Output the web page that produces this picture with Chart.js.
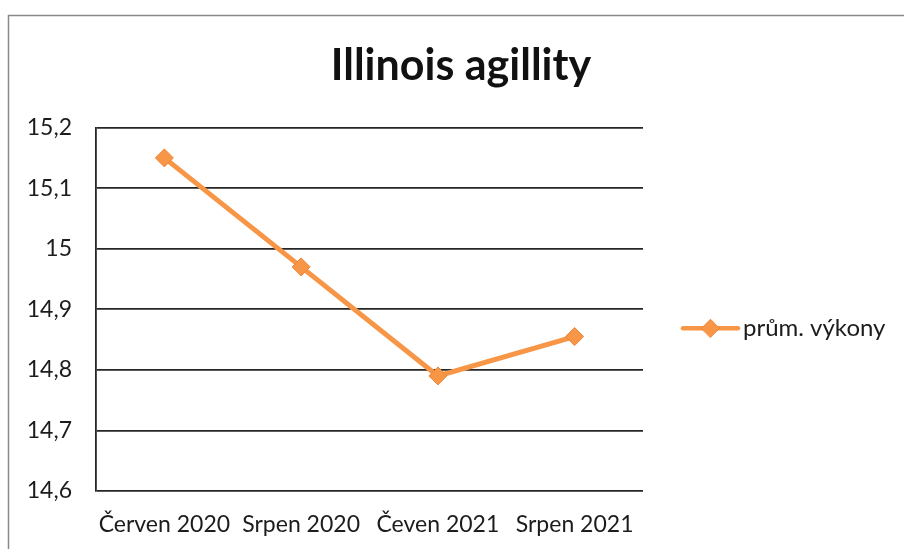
<!DOCTYPE html>
<html>
<head>
<meta charset="utf-8">
<script src="https://cdn.jsdelivr.net/npm/chart.js@4/dist/chart.umd.min.js"></script>
<style>
  html, body { margin: 0; padding: 0; background: #ffffff; }
  #wrap { width: 904px; height: 549px; }
</style>
</head>
<body>
<div id="wrap"><canvas id="c" width="904" height="549"></canvas></div>
<script>
// Measurement dates and the average result for each
const categories = ['Červen 2020', 'Srpen 2020', 'Čeven 2021', 'Srpen 2021'];
const averageTimes = [15.15, 14.97, 14.79, 14.855];
const seriesLabel = 'prům. výkony';
const chartTitle = 'Illinois agillity';

// Value axis range and step
const yMin = 14.6;
const yMax = 15.2;
const yStep = 0.1;

const ORANGE = '#F79646';
const ORANGE_EDGE = '#EE8439';
const GRID = '#262626';
const TEXT = '#1c1c1c';
const FONT = 'Lato, "Open Sans", sans-serif';

// Czech number style: decimal comma, no trailing ",0"
function czNumber(v) {
  return String(Number(v.toFixed(1))).replace('.', ',');
}

// White page with the thin grey frame along the top and left edge
const framePlugin = {
  id: 'frame',
  beforeDraw(chart) {
    const ctx = chart.ctx;
    ctx.save();
    ctx.fillStyle = '#ffffff';
    ctx.fillRect(0, 0, chart.width, chart.height);
    ctx.strokeStyle = '#8a8a8a';
    ctx.lineWidth = 1.5;
    ctx.beginPath();
    ctx.moveTo(8.5, chart.height);
    ctx.lineTo(8.5, 15.5);
    ctx.lineTo(chart.width, 15.5);
    ctx.stroke();
    ctx.restore();
  }
};

// Legend entry drawn to the right of the plot: line sample with a diamond marker
const sideLegendPlugin = {
  id: 'sideLegend',
  afterDraw(chart) {
    const ds = chart.data.datasets[0];
    const area = chart.chartArea;
    const ctx = chart.ctx;
    const cy = (area.top + area.bottom) / 2 + 19;
    const x0 = area.right + 40;
    const x1 = x0 + 55;
    ctx.save();
    ctx.strokeStyle = ds.borderColor;
    ctx.lineWidth = 4.5;
    ctx.lineCap = 'round';
    ctx.beginPath();
    ctx.moveTo(x0, cy);
    ctx.lineTo(x1, cy);
    ctx.stroke();
    ctx.fillStyle = ds.pointBackgroundColor;
    ctx.strokeStyle = ds.pointBorderColor;
    ctx.lineWidth = 1;
    Chart.helpers.drawPoint(ctx, { pointStyle: 'rectRot', radius: ds.pointRadius, rotation: 0, borderWidth: 1 }, (x0 + x1) / 2, cy);
    ctx.fillStyle = TEXT;
    ctx.font = '24px ' + FONT;
    ctx.textBaseline = 'middle';
    ctx.textAlign = 'left';
    ctx.fillText(ds.label, x1 + 5, cy);
    ctx.restore();
  }
};

new Chart(document.getElementById('c'), {
  type: 'line',
  data: {
    labels: categories,
    datasets: [{
      label: seriesLabel,
      data: averageTimes,
      borderColor: ORANGE,
      borderWidth: 5,
      tension: 0,
      fill: false,
      pointStyle: 'rectRot',
      pointRadius: 9,
      pointHoverRadius: 9,
      pointBackgroundColor: ORANGE,
      pointBorderColor: ORANGE_EDGE,
      pointBorderWidth: 1,
      yAxisID: 'y'
    }]
  },
  options: {
    responsive: false,
    animation: false,
    devicePixelRatio: 1,
    layout: { padding: { left: 18, right: 0, top: 40, bottom: 0 } },
    plugins: {
      legend: { display: false },
      tooltip: { enabled: false },
      title: {
        display: true,
        text: chartTitle,
        color: '#111111',
        font: { family: FONT, size: 43, weight: 'bold', lineHeight: 1.2 },
        padding: { top: 0, bottom: 36 }
      }
    },
    scales: {
      x: {
        type: 'category',
        offset: true,
        grid: { display: false, drawTicks: false },
        border: { display: false },
        ticks: {
          color: TEXT,
          padding: 20,
          maxRotation: 0,
          autoSkip: false,
          font: { family: FONT, size: 23 }
        },
        afterFit(scale) { scale.height = 58; }
      },
      y: {
        type: 'linear',
        position: 'left',
        min: yMin,
        max: yMax,
        grid: { color: GRID, lineWidth: 1.8, drawTicks: false },
        border: { display: true, color: GRID, width: 1.8 },
        ticks: {
          stepSize: yStep,
          color: TEXT,
          padding: 24,
          font: { family: FONT, size: 23 },
          callback: (v) => czNumber(v)
        },
        afterFit(scale) { scale.width = 78; }
      },
      side: {
        type: 'linear',
        position: 'right',
        display: true,
        grid: { display: false, drawTicks: false },
        border: { display: false },
        ticks: { display: false },
        afterFit(scale) { scale.width = 261; }
      }
    }
  },
  plugins: [framePlugin, sideLegendPlugin]
});
</script>
</body>
</html>
